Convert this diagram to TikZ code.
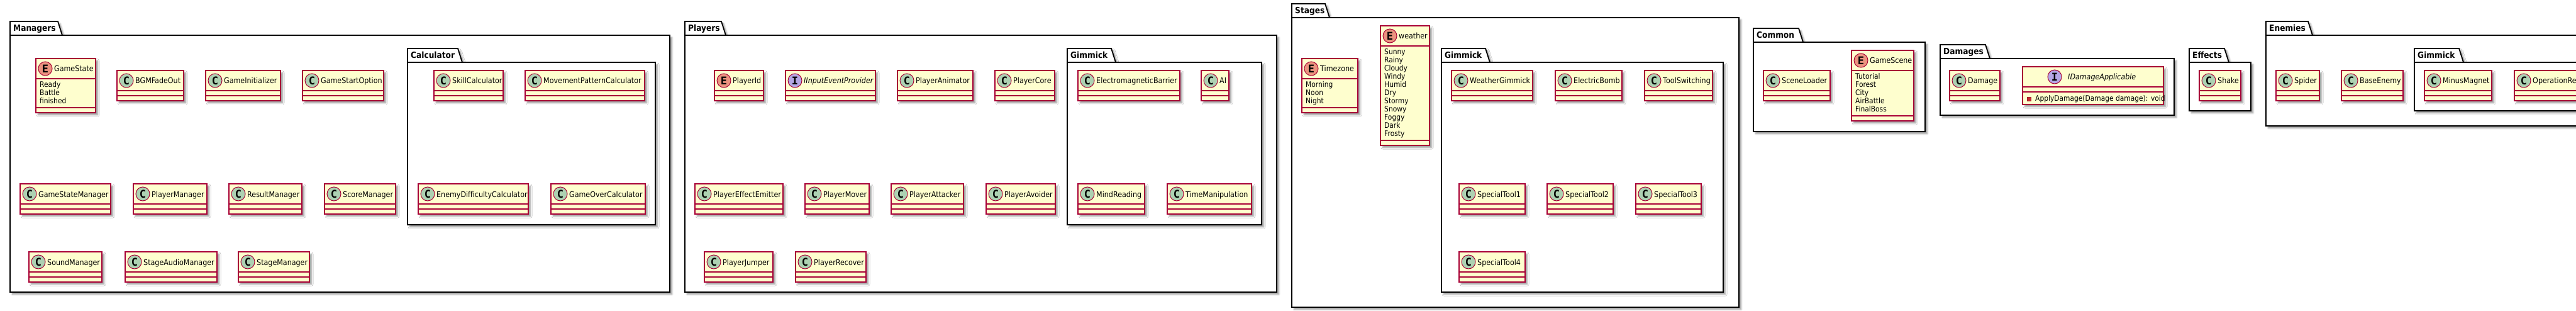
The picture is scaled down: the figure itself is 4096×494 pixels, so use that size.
\documentclass[tikz,border=0pt]{standalone}
\usepackage{fontspec}
\setmainfont{DejaVu Sans}[FakeStretch=0.89]
\newfontfamily\iconfont{DejaVu Sans Mono Bold}
\usetikzlibrary{shadows.blur}
\definecolor{clsfill}{HTML}{FEFECE}
\definecolor{clsborder}{HTML}{A80036}
\definecolor{colC}{HTML}{ADD1B2}
\definecolor{colE}{HTML}{EB937F}
\definecolor{colI}{HTML}{B4A7E5}
\definecolor{privred}{HTML}{C82930}
\tikzset{
  shad/.style={blur shadow={shadow xshift=3.5pt, shadow yshift=-3.5pt, shadow blur radius=2.5pt, shadow blur steps=6, shadow opacity=40}},
  clsbox/.style={rectangle, draw=clsborder, fill=clsfill, line width=1.5pt, inner sep=0pt, outer sep=0pt, shad},
  clsline/.style={draw=clsborder, line width=1.5pt},
  iconcirc/.style={circle, draw=clsborder, line width=1pt, minimum size=22pt, inner sep=0pt},
  iconC/.style={fill=colC},
  iconE/.style={fill=colE},
  iconI/.style={fill=colI},
  letter/.style={font=\iconfont\fontsize{17}{17}\selectfont, inner sep=0pt},
  cname/.style={font=\fontsize{12.5}{13}\selectfont, inner sep=0pt, anchor=base west},
  attr/.style={font=\fontsize{12}{13}\selectfont, inner sep=0pt, anchor=base west},
  pkgbox/.style={rectangle, draw=black, fill=white, line width=1.8pt, inner sep=0pt, outer sep=0pt, shad},
  pkgtab/.style={draw=black, fill=white, line width=1.8pt, line join=miter, shad},
  pkglabel/.style={font=\bfseries\fontsize{13.7}{14}\selectfont, inner sep=0pt, anchor=base west},
  privsq/.style={rectangle, fill=privred, draw=privred!80!black, line width=0.6pt, minimum size=6pt, inner sep=0pt}
}
% package: id, label, L, tabTop, tabRight, bodyTop, R, Bottom
\newcommand\pkg[8]{%
  \draw[pkgtab] (#3,#6) -- (#3,#4) -- (#5,#4) -- (#5+7,#6) -- cycle;
  \pgfmathsetmacro\PW{#7-#3}\pgfmathsetmacro\PH{#8-#6}%
  \node[pkgbox, anchor=north west, minimum width=\PW pt, minimum height=\PH pt] (#1) at (#3,#6) {};
  \node[pkglabel] (#1-label) at (#3+5,#4+16) {#2};
}
% class: id, L, T, R, kind, name
\newcommand\cls[6]{%
  \pgfmathsetmacro\CW{#4-#2}%
  \node[clsbox, anchor=north west, minimum width=\CW pt, minimum height=48pt] (#1) at (#2,#3) {};
  \draw[clsline] (#2,#3+32) -- (#4,#3+32) (#2,#3+40) -- (#4,#3+40);
  \node[iconcirc, icon#5] (#1-icon) at (#2+15,#3+16) {};
  \node[letter] at (#1-icon.center) {#5};
  \node[cname] (#1-name) at (#2+29,#3+21) {#6};
}
% enum: id, L, T, R, name, n, {attrs}
\newcommand\enm[7]{%
  \pgfmathsetmacro\CW{#4-#2}\pgfmathsetmacro\CH{47+13*#6}%
  \node[clsbox, anchor=north west, minimum width=\CW pt, minimum height=\CH pt] (#1) at (#2,#3) {};
  \draw[clsline] (#2,#3+32) -- (#4,#3+32) (#2,#3+39+13*#6) -- (#4,#3+39+13*#6);
  \node[iconcirc, iconE] (#1-icon) at (#2+15,#3+16) {};
  \node[letter] at (#1-icon.center) {E};
  \node[cname] (#1-name) at (#2+29,#3+21) {#5};
  \foreach \a [count=\i from 0] in {#7} {\node[attr] at (#2+6,#3+46+13*\i) {\a};}
}
\begin{document}
\begin{tikzpicture}[x=1pt,y=-1pt]
\useasboundingbox (0,0) rectangle (4096,494);
\clip (0,0) rectangle (4096,494);

% ---------------- Managers
\pkg{Managers}{Managers}{16}{34}{92}{56}{1065}{464}
\pkg{Calculator}{Calculator}{648}{77}{728}{99}{1042}{357}
\enm{GameState}{57}{93}{152}{GameState}{3}{Ready,Battle,finished}
\cls{BGMFadeOut}{186}{112}{292}{C}{BGMFadeOut}
\cls{GameInitializer}{327}{112}{446}{C}{GameInitializer}
\cls{GameStartOption}{481}{112}{610}{C}{GameStartOption}
\cls{GameStateManager}{32}{292}{176}{C}{GameStateManager}
\cls{PlayerManager}{212}{292}{329}{C}{PlayerManager}
\cls{ResultManager}{364}{292}{480}{C}{ResultManager}
\cls{ScoreManager}{516}{292}{629}{C}{ScoreManager}
\cls{SoundManager}{46}{400}{162}{C}{SoundManager}
\cls{StageAudioManager}{199}{400}{345}{C}{StageAudioManager}
\cls{StageManager}{379}{400}{492}{C}{StageManager}
\cls{SkillCalculator}{690}{112}{800}{C}{SkillCalculator}
\cls{MovementPatternCalculator}{835}{112}{1025}{C}{MovementPatternCalculator}
\cls{EnemyDifficultyCalculator}{665}{292}{840}{C}{EnemyDifficultyCalculator}
\cls{GameOverCalculator}{876}{292}{1026}{C}{GameOverCalculator}

% ---------------- Players
\pkg{Players}{Players}{1089}{34}{1147}{56}{2030}{464}
\pkg{PlayersGimmick}{Gimmick}{1697}{77}{1767}{99}{2006}{357}
\cls{PlayerId}{1136}{112}{1214}{E}{PlayerId}
\cls{IInputEventProvider}{1249}{112}{1392}{I}{\itshape IInputEventProvider}
\cls{PlayerAnimator}{1427}{112}{1547}{C}{PlayerAnimator}
\cls{PlayerCore}{1582}{112}{1677}{C}{PlayerCore}
\cls{PlayerEffectEmitter}{1105}{292}{1245}{C}{PlayerEffectEmitter}
\cls{PlayerMover}{1280}{292}{1382}{C}{PlayerMover}
\cls{PlayerAttacker}{1417}{292}{1532}{C}{PlayerAttacker}
\cls{PlayerAvoider}{1568}{292}{1678}{C}{PlayerAvoider}
\cls{PlayerJumper}{1120}{400}{1229}{C}{PlayerJumper}
\cls{PlayerRecover}{1265}{400}{1377}{C}{PlayerRecover}
\cls{ElectromagneticBarrier}{1714}{112}{1876}{C}{ElectromagneticBarrier}
\cls{AI}{1910}{112}{1954}{C}{AI}
\cls{MindReading}{1714}{292}{1820}{C}{MindReading}
\cls{TimeManipulation}{1856}{292}{1990}{C}{TimeManipulation}

% ---------------- Stages
\pkg{Stages}{Stages}{2054}{6}{2107}{28}{2765}{488}
\pkg{StagesGimmick}{Gimmick}{2292}{77}{2362}{99}{2740}{464}
\enm{Timezone}{2070}{93}{2159}{Timezone}{3}{Morning,Noon,Night}
\enm{weather}{2195}{41}{2273}{weather}{11}{Sunny,Rainy,Cloudy,Windy,Humid,Dry,Stormy,Snowy,Foggy,Dark,Frosty}
\cls{WeatherGimmick}{2308}{112}{2437}{C}{WeatherGimmick}
\cls{ElectricBomb}{2473}{112}{2579}{C}{ElectricBomb}
\cls{ToolSwitching}{2615}{112}{2723}{C}{ToolSwitching}
\cls{SpecialToolA}{2320}{292}{2425}{C}{SpecialTool1}
\cls{SpecialToolB}{2460}{292}{2565}{C}{SpecialTool2}
\cls{SpecialToolC}{2601}{292}{2705}{C}{SpecialTool3}
\cls{SpecialToolD}{2320}{400}{2425}{C}{SpecialTool4}

% ---------------- Common
\pkg{Common}{Common}{2788}{45}{2860}{67}{3061}{209}
\cls{SceneLoader}{2804}{112}{2910}{C}{SceneLoader}
\enm{GameScene}{2944}{80}{3043}{GameScene}{5}{Tutorial,Forest,City,AirBattle,FinalBoss}

% ---------------- Damages
\pkg{Damages}{Damages}{3085}{71}{3157}{93}{3457}{183}
\cls{Damage}{3100}{112}{3180}{C}{Damage}
\node[clsbox, anchor=north west, minimum width=224pt, minimum height=60pt] (IDamageApplicable) at (3216,106) {};
\draw[clsline] (3216,138) -- (3440,138) (3216,146) -- (3440,146);
\node[iconcirc, iconI] (IDamageApplicable-icon) at (3267,122) {};
\node[letter] at (IDamageApplicable-icon.center) {I};
\node[cname] (IDamageApplicable-name) at (3288,127) {\itshape IDamageApplicable};
\node[privsq] (ApplyDamage-vis) at (3226,157) {};
\node[attr] (ApplyDamage) at (3236,161) {ApplyDamage(Damage damage): void};

% ---------------- Effects
\pkg{Effects}{Effects}{3481}{77}{3537}{99}{3579}{176}
\cls{Shake}{3497}{112}{3563}{C}{Shake}

% ---------------- Enemies
\pkg{Enemies}{Enemies}{3603}{34}{3670}{56}{4200}{200}
\pkg{EnemiesGimmick}{Gimmick}{3839}{77}{3910}{99}{4200}{176}
\cls{Spider}{3619}{112}{3688}{C}{Spider}
\cls{BaseEnemy}{3723}{112}{3821}{C}{BaseEnemy}
\cls{MinusMagnet}{3855}{112}{3962}{C}{MinusMagnet}
\cls{OperationReversal}{3998}{112}{4150}{C}{OperationReversal}
\end{tikzpicture}
\end{document}
